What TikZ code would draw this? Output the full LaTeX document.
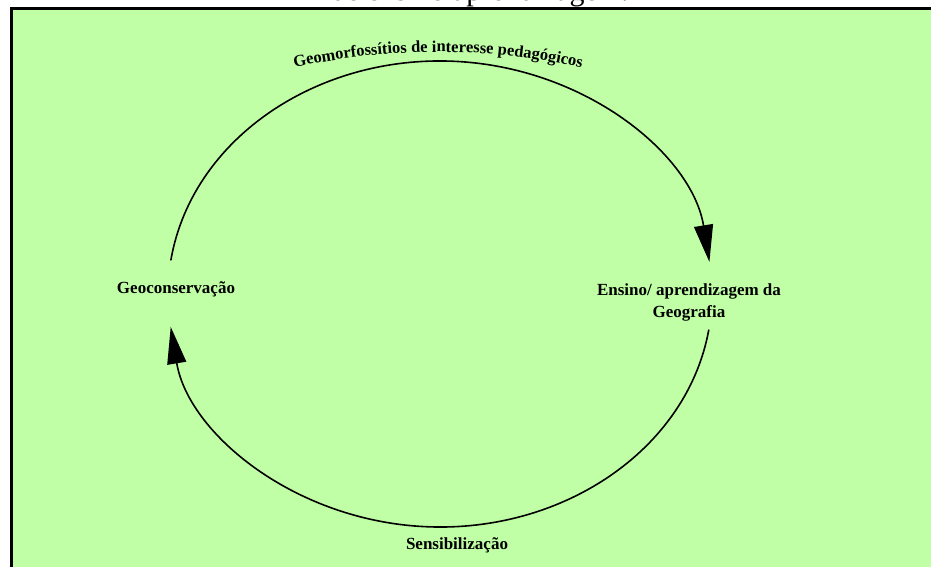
\documentclass[tikz,border=0pt]{standalone}
\usepackage{fontspec}
\setmainfont{Liberation Serif}
\usepackage{tikz}
\usetikzlibrary{arrows.meta,decorations.text}

\newcommand{\labelfont}{\bfseries\fontsize{17}{22}\selectfont}

\begin{document}
\begin{tikzpicture}
		[x=1pt,y=1pt,line cap=round,
		%Styles
		box line/.style={draw=black,line width=2.6pt,fill=bggreen},
		cycle line/.style={black,line width=1.6pt,-{Triangle[length=37pt,width=19pt]}},
		label text/.style={font=\labelfont,inner sep=0pt,align=center}
		]
		
		%Colors
		\definecolor{bggreen}{RGB}{193,255,167}
		
		\useasboundingbox (0,0) rectangle (931,567);
		
		%The frame
		\path[box line] (11.5,-20) rectangle (960,558.5);
		\node[font=\fontsize{30}{34}\selectfont,anchor=base,inner sep=0pt] (caption) at (480,566) {de ensino aprendizagem.};
		
		%The graphic
		\coordinate (ctr) at (440,273);
		\coordinate (upstart) at ([shift={(171.6:272pt and 233pt)}]ctr);
		\coordinate (lowstart) at ([shift={(-8.9:272pt and 233pt)}]ctr);
		
		\node[label text,anchor=base] (geo) at (176,273) {Geoconservação};
		\node[label text] (ensino) at (689,265) {Ensino/ aprendizagem da\\Geografia};
		\node[label text,anchor=base] (sens) at (457,17) {Sensibilização};
		
		\draw[cycle line] (upstart) arc[start angle=171.6,end angle=7.9,x radius=272pt,y radius=233pt];
		\draw[cycle line] (lowstart) arc[start angle=-8.9,end angle=-171.9,x radius=272pt,y radius=233pt];
		
		%text along the top
		\coordinate (tc) at (438,-150);
		\path[decorate,decoration={text along path,text align=center,
			text={|\bfseries\fontsize{16.5}{20}\selectfont|Geomorfossítios de interesse pedagógicos}}]
			([shift={(104:665pt)}]tc) arc[start angle=104,end angle=76,radius=665pt];
	\end{tikzpicture}
\end{document}
